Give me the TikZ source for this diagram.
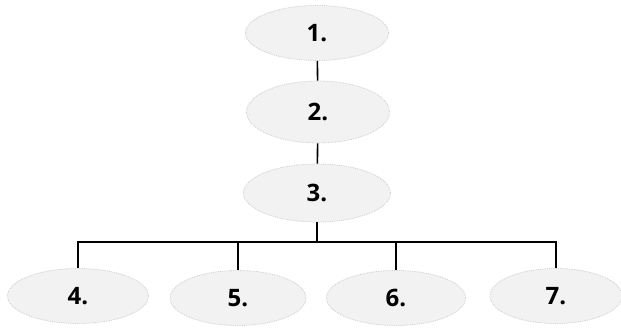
\documentclass[tikz,border=0pt]{standalone}
\usepackage{fontspec}
\setmainfont{Open Sans}
\usetikzlibrary{shapes.geometric}
\begin{document}
\begin{tikzpicture}[x=1pt, y=1pt, line width=1.6pt,
  blob/.style={ellipse, inner sep=0pt, minimum height=55, fill=black!5,
    draw=black!20, line width=0.8pt, densely dotted,
    font=\fontsize{24}{24}\selectfont\bfseries}]
  \useasboundingbox (0,0) rectangle (621,-328);
  \node[blob, minimum width=143] (n1) at (317,-33) {1.};
  \node[blob, minimum width=143, minimum height=62] (n2) at (318,-112) {2.};
  \node[blob, minimum width=147, minimum height=58] (n3) at (317,-193) {3.};
  \node[blob, minimum width=141] (n4) at (78,-296) {4.};
  \node[blob, minimum width=136] (n5) at (238,-298) {5.};
  \node[blob, minimum width=139] (n6) at (396,-298) {6.};
  \node[blob, minimum width=132] (n7) at (556,-296) {7.};
  \coordinate (bus) at (317,-242);
  \draw (n1) -- (n2);
  \draw (n2) -- (n3);
  \draw (n3) -- (bus);
  \foreach \k in {4,...,7}
    \draw (bus) -| (n\k.north);
\end{tikzpicture}
\end{document}
